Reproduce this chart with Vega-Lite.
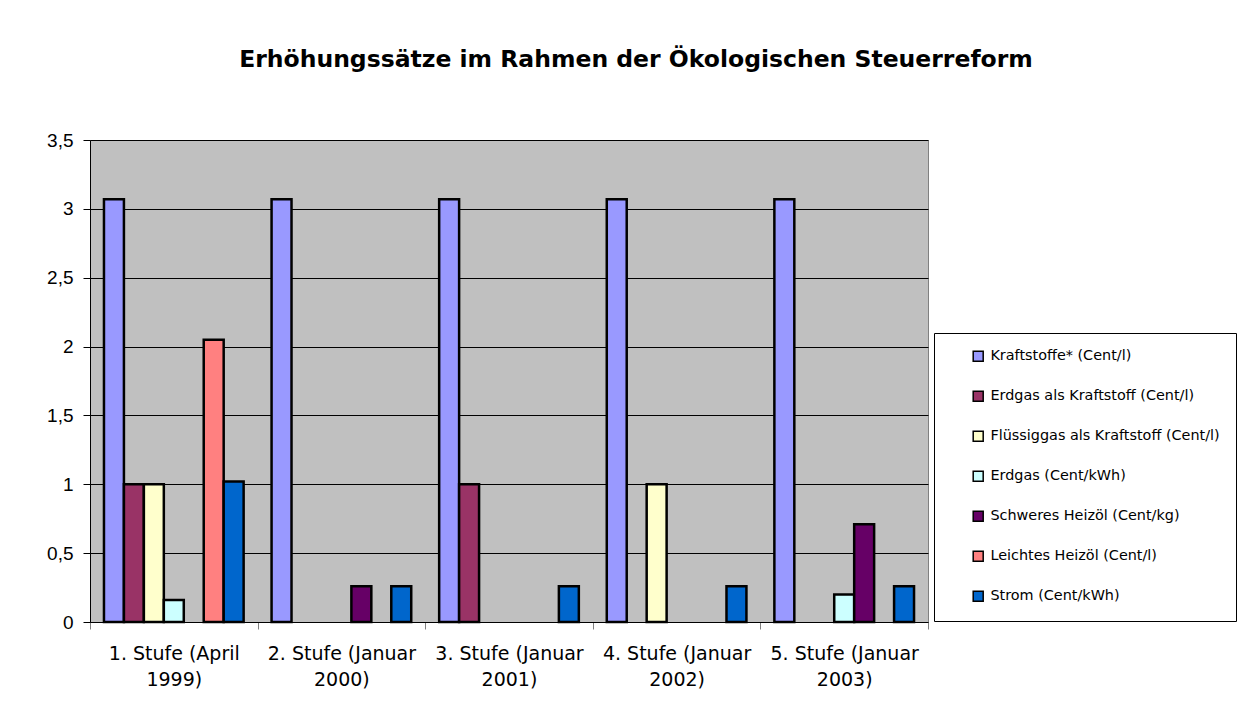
{
  "$schema": "https://vega.github.io/schema/vega-lite/v6.json",
  "width": 838,
  "height": 482,
  "autosize": {"type": "none"},
  "padding": {"left": 90, "top": 140, "right": 322, "bottom": 100},
  "background": "white",
  "title": {
    "text": "Erhöhungssätze im Rahmen der Ökologischen Steuerreform",
    "font": "DejaVu Sans",
    "fontSize": 23.5,
    "fontWeight": "bold",
    "color": "black",
    "anchor": "middle",
    "dx": 127,
    "baseline": "alphabetic",
    "offset": 41
  },
  "data": {
    "values": [
      {"stufe": "1. Stufe (April 1999)", "art": "Kraftstoffe* (Cent/l)", "wert": 3.07},
      {"stufe": "1. Stufe (April 1999)", "art": "Erdgas als Kraftstoff (Cent/l)", "wert": 1.0},
      {"stufe": "1. Stufe (April 1999)", "art": "Flüssiggas als Kraftstoff (Cent/l)", "wert": 1.0},
      {"stufe": "1. Stufe (April 1999)", "art": "Erdgas (Cent/kWh)", "wert": 0.16},
      {"stufe": "1. Stufe (April 1999)", "art": "Leichtes Heizöl (Cent/l)", "wert": 2.05},
      {"stufe": "1. Stufe (April 1999)", "art": "Strom (Cent/kWh)", "wert": 1.02},
      {"stufe": "2. Stufe (Januar 2000)", "art": "Kraftstoffe* (Cent/l)", "wert": 3.07},
      {"stufe": "2. Stufe (Januar 2000)", "art": "Schweres Heizöl (Cent/kg)", "wert": 0.26},
      {"stufe": "2. Stufe (Januar 2000)", "art": "Strom (Cent/kWh)", "wert": 0.26},
      {"stufe": "3. Stufe (Januar 2001)", "art": "Kraftstoffe* (Cent/l)", "wert": 3.07},
      {"stufe": "3. Stufe (Januar 2001)", "art": "Erdgas als Kraftstoff (Cent/l)", "wert": 1.0},
      {"stufe": "3. Stufe (Januar 2001)", "art": "Strom (Cent/kWh)", "wert": 0.26},
      {"stufe": "4. Stufe (Januar 2002)", "art": "Kraftstoffe* (Cent/l)", "wert": 3.07},
      {"stufe": "4. Stufe (Januar 2002)", "art": "Flüssiggas als Kraftstoff (Cent/l)", "wert": 1.0},
      {"stufe": "4. Stufe (Januar 2002)", "art": "Strom (Cent/kWh)", "wert": 0.26},
      {"stufe": "5. Stufe (Januar 2003)", "art": "Kraftstoffe* (Cent/l)", "wert": 3.07},
      {"stufe": "5. Stufe (Januar 2003)", "art": "Erdgas (Cent/kWh)", "wert": 0.2},
      {"stufe": "5. Stufe (Januar 2003)", "art": "Schweres Heizöl (Cent/kg)", "wert": 0.71},
      {"stufe": "5. Stufe (Januar 2003)", "art": "Strom (Cent/kWh)", "wert": 0.26}
    ]
  },
  "mark": {"type": "bar", "stroke": "black", "strokeWidth": 2.5},
  "encoding": {
    "x": {
      "field": "stufe",
      "type": "nominal",
      "sort": null,
      "scale": {"paddingInner": 0, "paddingOuter": 0},
      "axis": {
        "title": null,
        "labelAngle": 0,
        "labelFont": "DejaVu Sans",
        "labelFontSize": 19,
        "labelColor": "black",
        "labelLineHeight": 26,
        "labelPadding": 15,
        "labelBaseline": "top",
        "labelExpr": "[substring(datum.label, 0, lastindexof(datum.label, ' ')), substring(datum.label, lastindexof(datum.label, ' ') + 1)]",
        "tickBand": "extent",
        "tickSize": 7,
        "tickColor": "#808080",
        "domainColor": "black",
        "grid": false
      }
    },
    "xOffset": {
      "field": "art",
      "type": "nominal",
      "sort": ["Kraftstoffe* (Cent/l)", "Erdgas als Kraftstoff (Cent/l)", "Flüssiggas als Kraftstoff (Cent/l)", "Erdgas (Cent/kWh)", "Schweres Heizöl (Cent/kg)", "Leichtes Heizöl (Cent/l)", "Strom (Cent/kWh)"],
      "scale": {"domain": ["Kraftstoffe* (Cent/l)", "Erdgas als Kraftstoff (Cent/l)", "Flüssiggas als Kraftstoff (Cent/l)", "Erdgas (Cent/kWh)", "Schweres Heizöl (Cent/kg)", "Leichtes Heizöl (Cent/l)", "Strom (Cent/kWh)"], "paddingInner": 0, "paddingOuter": 0.7}
    },
    "y": {
      "field": "wert",
      "type": "quantitative",
      "scale": {"domain": [0, 3.5], "nice": false},
      "axis": {
        "title": null,
        "values": [0, 0.5, 1, 1.5, 2, 2.5, 3, 3.5],
        "labelExpr": "replace(toString(datum.value), '.', ',')",
        "labelFont": "Liberation Sans",
        "labelFontSize": 19,
        "labelColor": "black",
        "labelPadding": 10,
        "tickSize": 7,
        "tickColor": "black",
        "domainColor": "black",
        "grid": true,
        "gridColor": "black",
        "gridOpacity": 1,
        "gridWidth": 1
      }
    },
    "color": {
      "field": "art",
      "type": "nominal",
      "scale": {
        "domain": ["Kraftstoffe* (Cent/l)", "Erdgas als Kraftstoff (Cent/l)", "Flüssiggas als Kraftstoff (Cent/l)", "Erdgas (Cent/kWh)", "Schweres Heizöl (Cent/kg)", "Leichtes Heizöl (Cent/l)", "Strom (Cent/kWh)"],
        "range": ["#9999FF", "#993366", "#FFFFCC", "#CCFFFF", "#660066", "#FF8080", "#0066CC"]
      },
      "legend": {
        "title": null,
        "orient": "none",
        "legendX": 844,
        "legendY": 193,
        "direction": "vertical",
        "symbolType": "square",
        "symbolSize": 100,
        "symbolStrokeColor": "black",
        "symbolStrokeWidth": 1.5,
        "symbolOpacity": 1,
        "symbolOffset": 21,
        "labelFont": "DejaVu Sans",
        "labelFontSize": 14.4,
        "labelColor": "black",
        "labelOffset": 5,
        "labelLimit": 400,
        "rowPadding": 23,
        "padding": 16,
        "strokeColor": "black",
        "fillColor": "white"
      }
    }
  },
  "config": {
    "view": {"fill": "#C0C0C0", "stroke": "#808080", "strokeWidth": 1}
  }
}
